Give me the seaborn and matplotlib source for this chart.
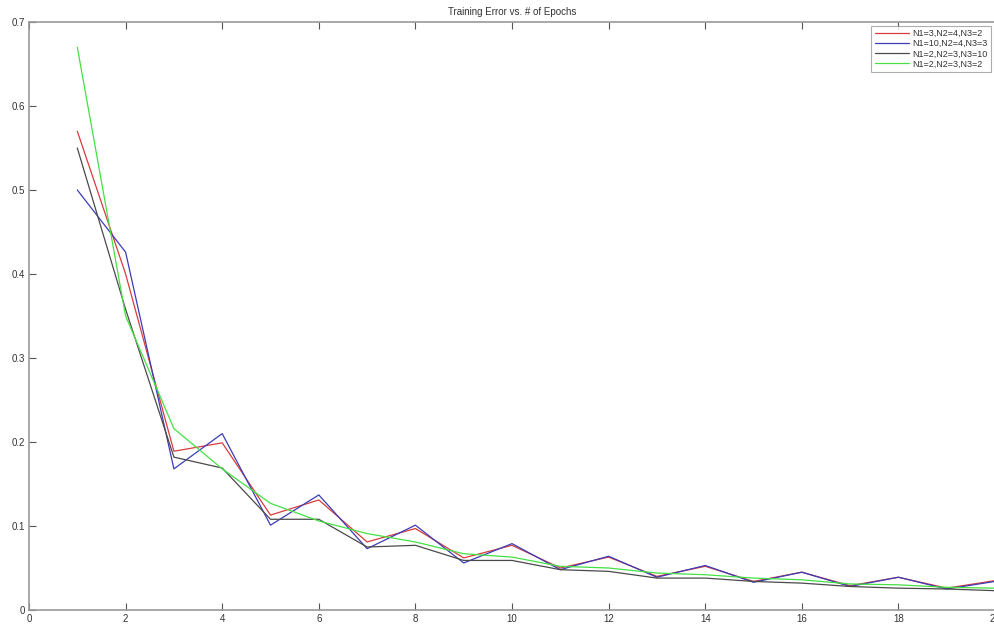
import matplotlib
matplotlib.use('Agg')
import matplotlib.pyplot as plt
import seaborn as sns
import pandas as pd

# training error per epoch
epochs = list(range(1, 21))
err_a = [0.570, 0.400, 0.189, 0.199, 0.113, 0.131, 0.081, 0.097, 0.062, 0.077,
         0.050, 0.063, 0.040, 0.052, 0.034, 0.045, 0.029, 0.039, 0.026, 0.035]
err_b = [0.500, 0.426, 0.168, 0.210, 0.101, 0.137, 0.073, 0.101, 0.056, 0.079,
         0.048, 0.064, 0.039, 0.053, 0.033, 0.045, 0.028, 0.039, 0.025, 0.034]
err_c = [0.550, 0.358, 0.182, 0.169, 0.108, 0.108, 0.075, 0.077, 0.059, 0.059,
         0.048, 0.046, 0.038, 0.038, 0.034, 0.032, 0.028, 0.026, 0.025, 0.023]
err_d = [0.670, 0.350, 0.216, 0.168, 0.127, 0.106, 0.091, 0.081, 0.067, 0.063,
         0.052, 0.050, 0.044, 0.042, 0.038, 0.036, 0.031, 0.030, 0.027, 0.026]

names = ['N1=3,N2=4,N3=2', 'N1=10,N2=4,N3=3', 'N1=2,N2=3,N3=10', 'N1=2,N2=3,N3=2']
colors = ['#d83c3c', '#3c3cb8', '#4a4a4a', '#44e044']

rows = []
for name, errs in zip(names, [err_a, err_b, err_c, err_d]):
    for e, v in zip(epochs, errs):
        rows.append({'epoch': e, 'error': v, 'net': name})
df = pd.DataFrame(rows)

sns.set_style('white')
plt.rcParams['font.family'] = ['Liberation Sans', 'DejaVu Sans']

fig = plt.figure(figsize=(9.95, 6.26), dpi=100)
ax = fig.add_axes([29 / 995, 16 / 626, 966 / 995, 588 / 626])

sns.lineplot(data=df, x='epoch', y='error', hue='net', palette=colors,
             hue_order=names, linewidth=0.9, ax=ax)

ax.set_xlim(0, 20)
ax.set_ylim(0, 0.7)
ax.set_xticks(range(0, 21, 2))
ax.set_yticks([0, 0.1, 0.2, 0.3, 0.4, 0.5, 0.6, 0.7])
ax.set_yticklabels(['0', '0.1', '0.2', '0.3', '0.4', '0.5', '0.6', '0.7'])
ax.set_xlabel('')
ax.set_ylabel('')
ax.set_title('Training Error vs. # of Epochs', fontsize=7, color='#333333', pad=5)

for side in ['left', 'bottom', 'top']:
    ax.spines[side].set_color('#999999')
    ax.spines[side].set_linewidth(1.2)
ax.spines['right'].set_visible(False)
ax.tick_params(direction='in', length=5, width=0.8, color='#555555',
               labelsize=7, labelcolor='#333333', top=True, bottom=True,
               left=True, pad=3)

leg = ax.legend(loc='upper right', fontsize=6.5, frameon=True, fancybox=False,
                borderaxespad=0.4, handlelength=3.8, handletextpad=0.4,
                labelspacing=0.12, borderpad=0.4)
leg.get_frame().set_edgecolor('#999999')
leg.get_frame().set_linewidth(0.8)
for t in leg.get_texts():
    t.set_color('#333333')

fig.savefig('out.png', dpi=100)
